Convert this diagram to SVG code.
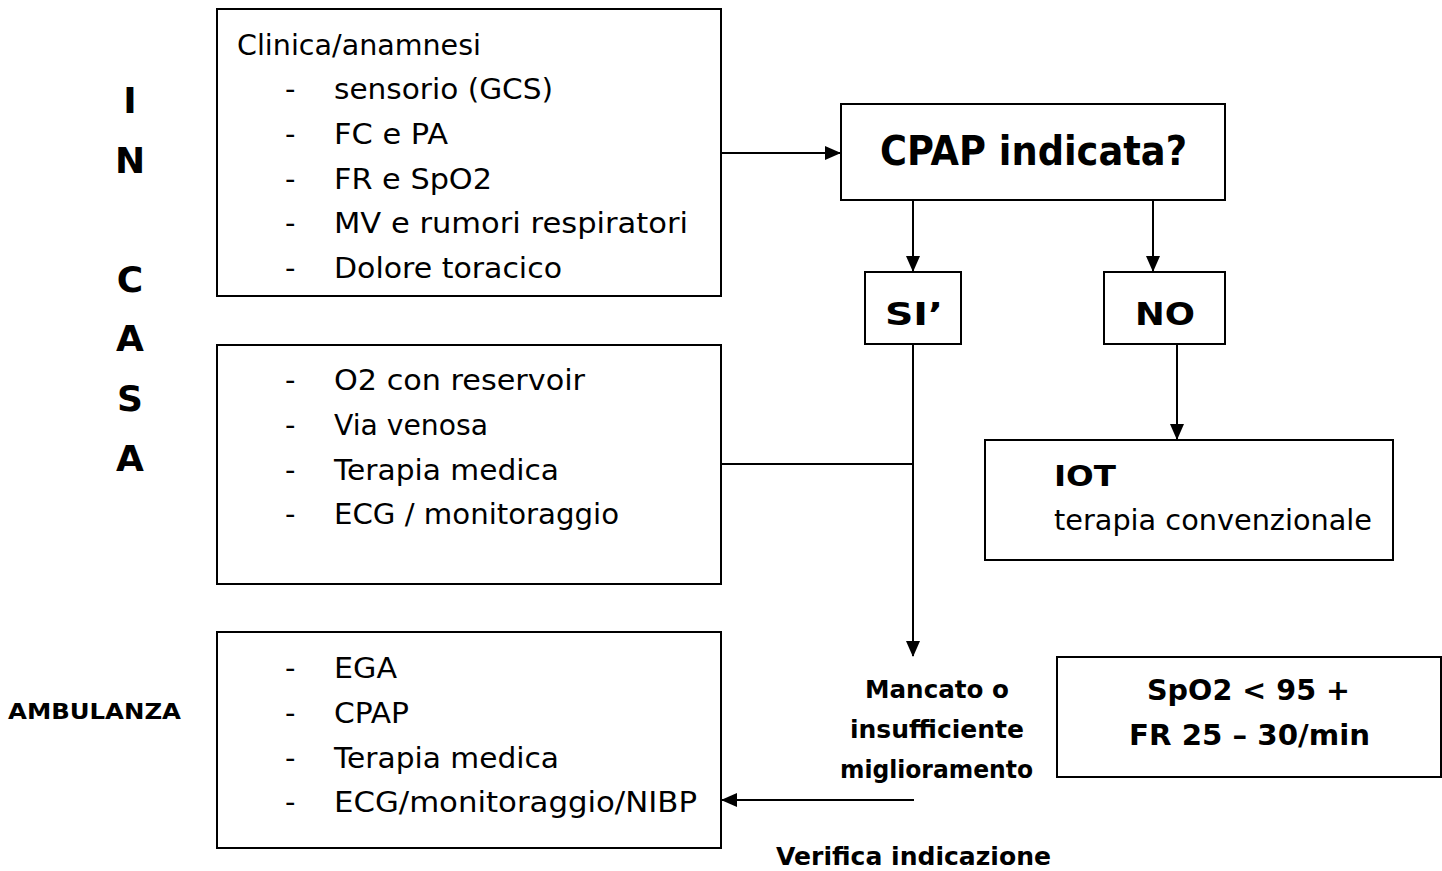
<svg xmlns="http://www.w3.org/2000/svg" width="1442" height="871" viewBox="0 0 1442 871">
<defs>
<style>
.box{fill:#fff;stroke:#000;stroke-width:2}
.ln{fill:none;stroke:#000;stroke-width:2}
text{font-family:"DejaVu Sans","Noto Sans",sans-serif;fill:#000}
.t{font-size:29px}
.b{font-weight:bold}
.v{font-size:36px;font-weight:bold;text-anchor:middle}
</style>
<marker id="ah" markerWidth="10" markerHeight="10" refX="9" refY="5" orient="auto" markerUnits="userSpaceOnUse" viewBox="0 0 10 10">
<path d="M0,0 L10,5 L0,10 z" fill="#000"/>
</marker>
<marker id="ah2" markerWidth="16" markerHeight="16" refX="15" refY="8" orient="auto" markerUnits="userSpaceOnUse" viewBox="0 0 16 16">
<path d="M0,1 L16,8 L0,15 z" fill="#000"/>
</marker>
</defs>
<rect width="1442" height="871" fill="#fff"/>

<g id="connectors">
<line class="ln" x1="721" y1="153" x2="840" y2="153" marker-end="url(#ah2)"/>
<line class="ln" x1="913" y1="200" x2="913" y2="271" marker-end="url(#ah2)"/>
<line class="ln" x1="1153" y1="200" x2="1153" y2="271" marker-end="url(#ah2)"/>
<line class="ln" x1="1177" y1="344" x2="1177" y2="439" marker-end="url(#ah2)"/>
<line class="ln" x1="913" y1="344" x2="913" y2="656" marker-end="url(#ah2)"/>
<line class="ln" x1="721" y1="464" x2="913" y2="464"/>
<line class="ln" x1="914" y1="800" x2="722" y2="800" marker-end="url(#ah2)"/>
</g>

<g id="label-incasa">
<text class="v" x="130" y="113">I</text>
<text class="v" x="130" y="173">N</text>
<text class="v" x="130" y="292">C</text>
<text class="v" x="130" y="351">A</text>
<text class="v" x="130" y="411">S</text>
<text class="v" x="130" y="471">A</text>
</g>
<g id="label-ambulanza">
<text class="b" x="8" y="719" font-size="22" textLength="173" lengthAdjust="spacingAndGlyphs">AMBULANZA</text>
</g>

<g id="node-clinica">
<rect class="box" x="217" y="9" width="504" height="287"/>
<text class="t" x="237" y="55" textLength="244" lengthAdjust="spacingAndGlyphs">Clinica/anamnesi</text>
<text class="t" x="285" y="99">-</text>
<text class="t" x="334" y="99" textLength="219" lengthAdjust="spacingAndGlyphs">sensorio (GCS)</text>
<text class="t" x="285" y="144">-</text>
<text class="t" x="334" y="144" textLength="114" lengthAdjust="spacingAndGlyphs">FC e PA</text>
<text class="t" x="285" y="189">-</text>
<text class="t" x="334" y="189" textLength="158" lengthAdjust="spacingAndGlyphs">FR e SpO2</text>
<text class="t" x="285" y="233">-</text>
<text class="t" x="334" y="233" textLength="354" lengthAdjust="spacingAndGlyphs">MV e rumori respiratori</text>
<text class="t" x="285" y="278">-</text>
<text class="t" x="334" y="278" textLength="228" lengthAdjust="spacingAndGlyphs">Dolore toracico</text>
</g>

<g id="node-ossigeno">
<rect class="box" x="217" y="345" width="504" height="239"/>
<text class="t" x="285" y="390">-</text>
<text class="t" x="334" y="390" textLength="251" lengthAdjust="spacingAndGlyphs">O2 con reservoir</text>
<text class="t" x="285" y="435">-</text>
<text class="t" x="334" y="435" textLength="154" lengthAdjust="spacingAndGlyphs">Via venosa</text>
<text class="t" x="285" y="480">-</text>
<text class="t" x="334" y="480" textLength="225" lengthAdjust="spacingAndGlyphs">Terapia medica</text>
<text class="t" x="285" y="524">-</text>
<text class="t" x="334" y="524" textLength="285" lengthAdjust="spacingAndGlyphs">ECG / monitoraggio</text>
</g>

<g id="node-ambulanza">
<rect class="box" x="217" y="632" width="504" height="216"/>
<text class="t" x="285" y="678">-</text>
<text class="t" x="334" y="678" textLength="63" lengthAdjust="spacingAndGlyphs">EGA</text>
<text class="t" x="285" y="723">-</text>
<text class="t" x="334" y="723" textLength="75" lengthAdjust="spacingAndGlyphs">CPAP</text>
<text class="t" x="285" y="768">-</text>
<text class="t" x="334" y="768" textLength="225" lengthAdjust="spacingAndGlyphs">Terapia medica</text>
<text class="t" x="285" y="812">-</text>
<text class="t" x="334" y="812" textLength="363" lengthAdjust="spacingAndGlyphs">ECG/monitoraggio/NIBP</text>
</g>

<g id="node-cpap">
<rect class="box" x="841" y="104" width="384" height="96"/>
<text class="b" x="880" y="165" font-size="40" textLength="307" lengthAdjust="spacingAndGlyphs">CPAP indicata?</text>
</g>

<g id="node-si">
<rect class="box" x="865" y="272" width="96" height="72"/>
<text class="b" x="885" y="325" font-size="32" textLength="58" lengthAdjust="spacingAndGlyphs">SI’</text>
</g>

<g id="node-no">
<rect class="box" x="1104" y="272" width="121" height="72"/>
<text class="b" x="1135" y="325" font-size="32" textLength="60" lengthAdjust="spacingAndGlyphs">NO</text>
</g>

<g id="node-iot">
<rect class="box" x="985" y="440" width="408" height="120"/>
<text class="b" x="1054" y="486" font-size="28" textLength="62" lengthAdjust="spacingAndGlyphs">IOT</text>
<text class="t" x="1054" y="530" textLength="318" lengthAdjust="spacingAndGlyphs">terapia convenzionale</text>
</g>

<g id="node-mancato">
<text class="b" x="865" y="698" font-size="24" textLength="144" lengthAdjust="spacingAndGlyphs">Mancato o</text>
<text class="b" x="850" y="738" font-size="24" textLength="174" lengthAdjust="spacingAndGlyphs">insufficiente</text>
<text class="b" x="840" y="778" font-size="24" textLength="193" lengthAdjust="spacingAndGlyphs">miglioramento</text>
</g>

<g id="node-spo2">
<rect class="box" x="1057" y="657" width="384" height="120"/>
<text class="b" x="1147" y="700" font-size="29" textLength="203" lengthAdjust="spacingAndGlyphs">SpO2 &lt; 95 +</text>
<text class="b" x="1129" y="745" font-size="29" textLength="241" lengthAdjust="spacingAndGlyphs">FR 25 – 30/min</text>
</g>

<g id="node-verifica">
<text class="b" x="776" y="865" font-size="24" textLength="275" lengthAdjust="spacingAndGlyphs">Verifica indicazione</text>
</g>
</svg>
